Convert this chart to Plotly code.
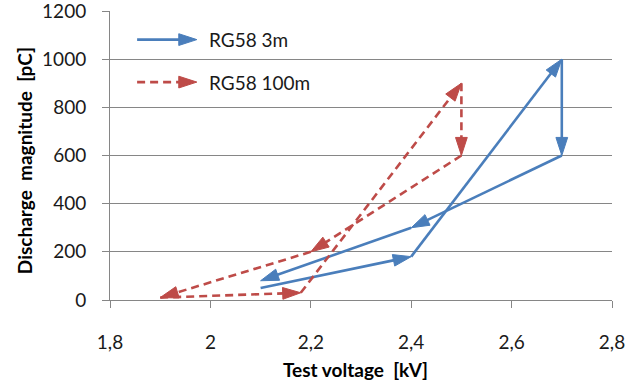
import plotly.graph_objects as go

# ---- data ----
x_tick_values = [1.8, 2.0, 2.2, 2.4, 2.6, 2.8]
x_tick_labels = ["1,8", "2", "2,2", "2,4", "2,6", "2,8"]
y_tick_values = [0, 200, 400, 600, 800, 1000, 1200]

series_names = ["RG58 3m", "RG58 100m"]
rg58_3m_voltage = [2.1, 2.4, 2.7, 2.7, 2.4, 2.1]
rg58_3m_charge = [50, 180, 1000, 600, 300, 80]
rg58_100m_voltage = [1.9, 2.18, 2.5, 2.5, 2.2, 1.9]
rg58_100m_charge = [10, 30, 900, 600, 200, 10]

# ---- style ----
BLUE = "#4A7EBB"
RED = "#BE4B48"
GRID = "#868686"
TEXT = "#1A1A1A"
FONT = "Lato"
ARROW = 19
LW = 2.6
RED_DASH = "8px,5px"

fig = go.Figure()


def arrow_sizes(n):
    return [0] + [ARROW] * (n - 1)


def arrow_marker(col, sizes):
    return dict(symbol="arrow", size=sizes, angleref="previous", color=col,
                opacity=1, line=dict(color=col, width=1))


fig.add_trace(go.Scatter(
    x=rg58_3m_voltage, y=rg58_3m_charge, name=series_names[0],
    mode="lines+markers", opacity=1,
    line=dict(color=BLUE, width=LW),
    marker=arrow_marker(BLUE, arrow_sizes(len(rg58_3m_voltage))),
))
fig.add_trace(go.Scatter(
    x=rg58_100m_voltage, y=rg58_100m_charge, name=series_names[1],
    mode="lines+markers", opacity=1,
    line=dict(color=RED, width=LW, dash=RED_DASH),
    marker=arrow_marker(RED, arrow_sizes(len(rg58_100m_voltage))),
))

# ---- legend glyphs on an invisible overlay axis (0..1) ----
legend_rows = [(0.901, BLUE, None), (0.754, RED, RED_DASH)]
for (ly, col, dash), name in zip(legend_rows, series_names):
    fig.add_trace(go.Scatter(
        x=[0.054, 0.173], y=[ly, ly], xaxis="x2", yaxis="y2",
        mode="lines+markers", hoverinfo="skip", opacity=1,
        line=dict(color=col, width=LW, dash=dash),
        marker=arrow_marker(col, [0, ARROW]),
    ))
    fig.add_annotation(x=0.193, y=ly, xref="paper", yref="paper",
                       text=name, showarrow=False, xanchor="left", yanchor="middle",
                       font=dict(family=FONT, size=19, color=TEXT))

# axis titles
fig.add_annotation(x=0.489, y=-0.241, xref="paper", yref="paper",
                   text="<b>Test voltage  [kV]</b>", showarrow=False,
                   xanchor="center", yanchor="middle",
                   font=dict(family=FONT, size=19, color="black"))
fig.add_annotation(x=-0.169, y=0.481, xref="paper", yref="paper",
                   text="<b>Discharge  magnitude  [pC]</b>", showarrow=False,
                   textangle=-90, xanchor="center", yanchor="middle",
                   font=dict(family=FONT, size=19, color="black"))

fig.update_layout(
    width=631, height=382,
    margin=dict(l=110, r=19, t=11, b=82, autoexpand=False),
    plot_bgcolor="white", paper_bgcolor="white",
    showlegend=False,
    font=dict(family=FONT, size=19, color=TEXT),
    xaxis=dict(range=[1.8, 2.8], tickvals=x_tick_values, ticktext=x_tick_labels,
               showgrid=False, zeroline=False, showline=True, linecolor=GRID,
               linewidth=1, ticks="outside", ticklen=7, tickcolor=GRID,
               ticklabelstandoff=18, automargin=False),
    yaxis=dict(range=[0, 1200], tickvals=y_tick_values,
               showgrid=True, gridcolor=GRID, gridwidth=1, zeroline=False,
               showline=True, linecolor=GRID, linewidth=1,
               ticks="outside", ticklen=7, tickcolor=GRID,
               ticklabelstandoff=12, ticklabeloverflow="allow", automargin=False),
    xaxis2=dict(overlaying="x", range=[0, 1], visible=False),
    yaxis2=dict(overlaying="y", range=[0, 1], visible=False),
)

fig.write_html("out.html")
